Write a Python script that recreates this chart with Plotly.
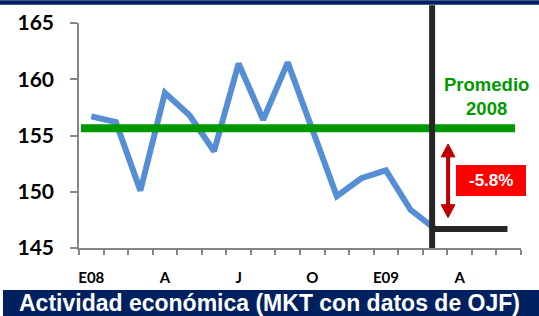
import plotly.graph_objects as go

# ---- data ----
months = ["E08", "F08", "M08", "A08", "M08b", "J08", "J08b", "A08b", "S08", "O08", "N08", "D08",
          "E09", "F09", "M09", "A09", "M09b", "J09"]
activity = [156.7, 156.2, 150.1, 158.8, 156.8, 153.6, 161.4, 156.4, 161.5, 155.5, 149.6, 151.2,
            151.9, 148.4, 146.7]
tick_labels = ["E08", "A", "J", "O", "E09", "A"]
tick_step = 3
avg_label = "Promedio<br>2008"
change_label = "-5.8%"

x_idx = list(range(len(activity)))
avg2008 = sum(activity[:12]) / 12
last = activity[-1]
tickvals = list(range(0, len(months), tick_step))[:len(tick_labels)]

NAVY = "#002060"
BLUE = "#558ED5"
GREEN = "#009900"
BLACK = "#262626"
DARKRED = "#C00000"
AXIS = "#868686"

fig = go.Figure()
fig.add_trace(go.Scatter(x=x_idx, y=activity, mode="lines",
                         line=dict(color=BLUE, width=6, shape="linear"), hoverinfo="skip"))

vx = len(activity) - 1 - 0.12  # vertical marker just before last point

PW, PH = 442, 225.3  # plot area size in px


def px(xp):
    return (xp - 79) / PW


def py(yp):
    return (248 - yp) / PH


ax_x = 14.53
top = avg2008 - 1.4
bot = last + 1.0
hw = 0.28   # half width of arrow head (x units)
hh = 1.15   # head height (y units)

up_head = f"M {ax_x} {top} L {ax_x - hw} {top - hh} L {ax_x + hw} {top - hh} Z"
down_head = f"M {ax_x} {bot} L {ax_x - hw} {bot + hh} L {ax_x + hw} {bot + hh} Z"

shapes = [
    # navy top bar
    dict(type="rect", xref="paper", yref="paper", x0=px(0), x1=px(539),
         y0=py(4.5), y1=py(0), fillcolor=NAVY, line=dict(width=0), layer="above"),
    # navy bottom bar
    dict(type="rect", xref="paper", yref="paper", x0=px(3), x1=px(539),
         y0=py(316), y1=py(290), fillcolor=NAVY, line=dict(width=0), layer="below"),
    # green 2008 average
    dict(type="line", xref="x", yref="y", x0=-0.42, x1=17.26, y0=avg2008, y1=avg2008,
         line=dict(color=GREEN, width=8), layer="above"),
    # black vertical
    dict(type="line", xref="x", yref="paper", x0=vx, x1=vx, y0=0.0, y1=py(5),
         line=dict(color=BLACK, width=6), layer="above"),
    # black horizontal at last value
    dict(type="line", xref="x", yref="y", x0=vx, x1=16.95, y0=last, y1=last,
         line=dict(color=BLACK, width=6), layer="above"),
    # red box
    dict(type="rect", xref="paper", yref="paper", x0=px(456), x1=px(526),
         y0=py(196), y1=py(165), fillcolor="#FF0000", line=dict(width=0), layer="above"),
    # arrow shaft and heads
    dict(type="line", xref="x", yref="y", x0=ax_x, x1=ax_x, y0=top - hh + 0.2, y1=bot + hh - 0.2,
         line=dict(color=DARKRED, width=4), layer="above"),
    dict(type="path", xref="x", yref="y", path=up_head, fillcolor=DARKRED,
         line=dict(color=DARKRED, width=1), layer="above"),
    dict(type="path", xref="x", yref="y", path=down_head, fillcolor=DARKRED,
         line=dict(color=DARKRED, width=1), layer="above"),
]

annotations = [
    dict(x=px(491), y=py(180.5), xref="paper", yref="paper", xanchor="center", yanchor="middle",
         text=change_label, showarrow=False,
         font=dict(family="Liberation Sans", size=17, color="white", weight="bold")),
    dict(x=px(486), y=py(96), xref="paper", yref="paper", xanchor="center", yanchor="middle",
         text=avg_label, showarrow=False, align="center",
         font=dict(family="Liberation Sans", size=18.5, color=GREEN, weight="bold")),
    dict(x=px(269), y=py(303), xref="paper", yref="paper", xanchor="center", yanchor="middle",
         text="Actividad económica (MKT con datos de OJF)", showarrow=False,
         font=dict(family="Liberation Sans", size=23, color="white", weight="bold")),
]

fig.update_layout(
    width=539, height=316,
    margin=dict(l=79, r=18, t=23, b=68, autoexpand=False),
    paper_bgcolor="white", plot_bgcolor="white",
    showlegend=False,
    shapes=shapes, annotations=annotations,
    xaxis=dict(range=[-0.5, 17.5], tickvals=tickvals, ticktext=tick_labels,
               ticks="", showgrid=False, zeroline=False, automargin=False,
               showline=True, linecolor=AXIS, linewidth=1.5,
               minor=dict(ticks="outside", ticklen=5, tickcolor=AXIS, tickwidth=1.5,
                          tick0=-0.5, dtick=1, showgrid=False),
               ticklabelstandoff=15,
               tickfont=dict(family="Lato", size=15, color="black", weight="bold")),
    yaxis=dict(range=[145, 165], tickvals=[145, 150, 155, 160, 165],
               ticks="outside", ticklen=7, tickcolor=AXIS, tickwidth=1.5,
               showgrid=False, zeroline=False, automargin=False,
               showline=True, linecolor=AXIS, linewidth=1.5,
               ticklabelstandoff=12,
               tickfont=dict(family="Lato", size=21, color="black", weight="bold")),
)

fig.write_html("out.html", config={"displayModeBar": False},
               post_script="document.body.style.margin='0px';document.body.style.overflow='hidden';")
